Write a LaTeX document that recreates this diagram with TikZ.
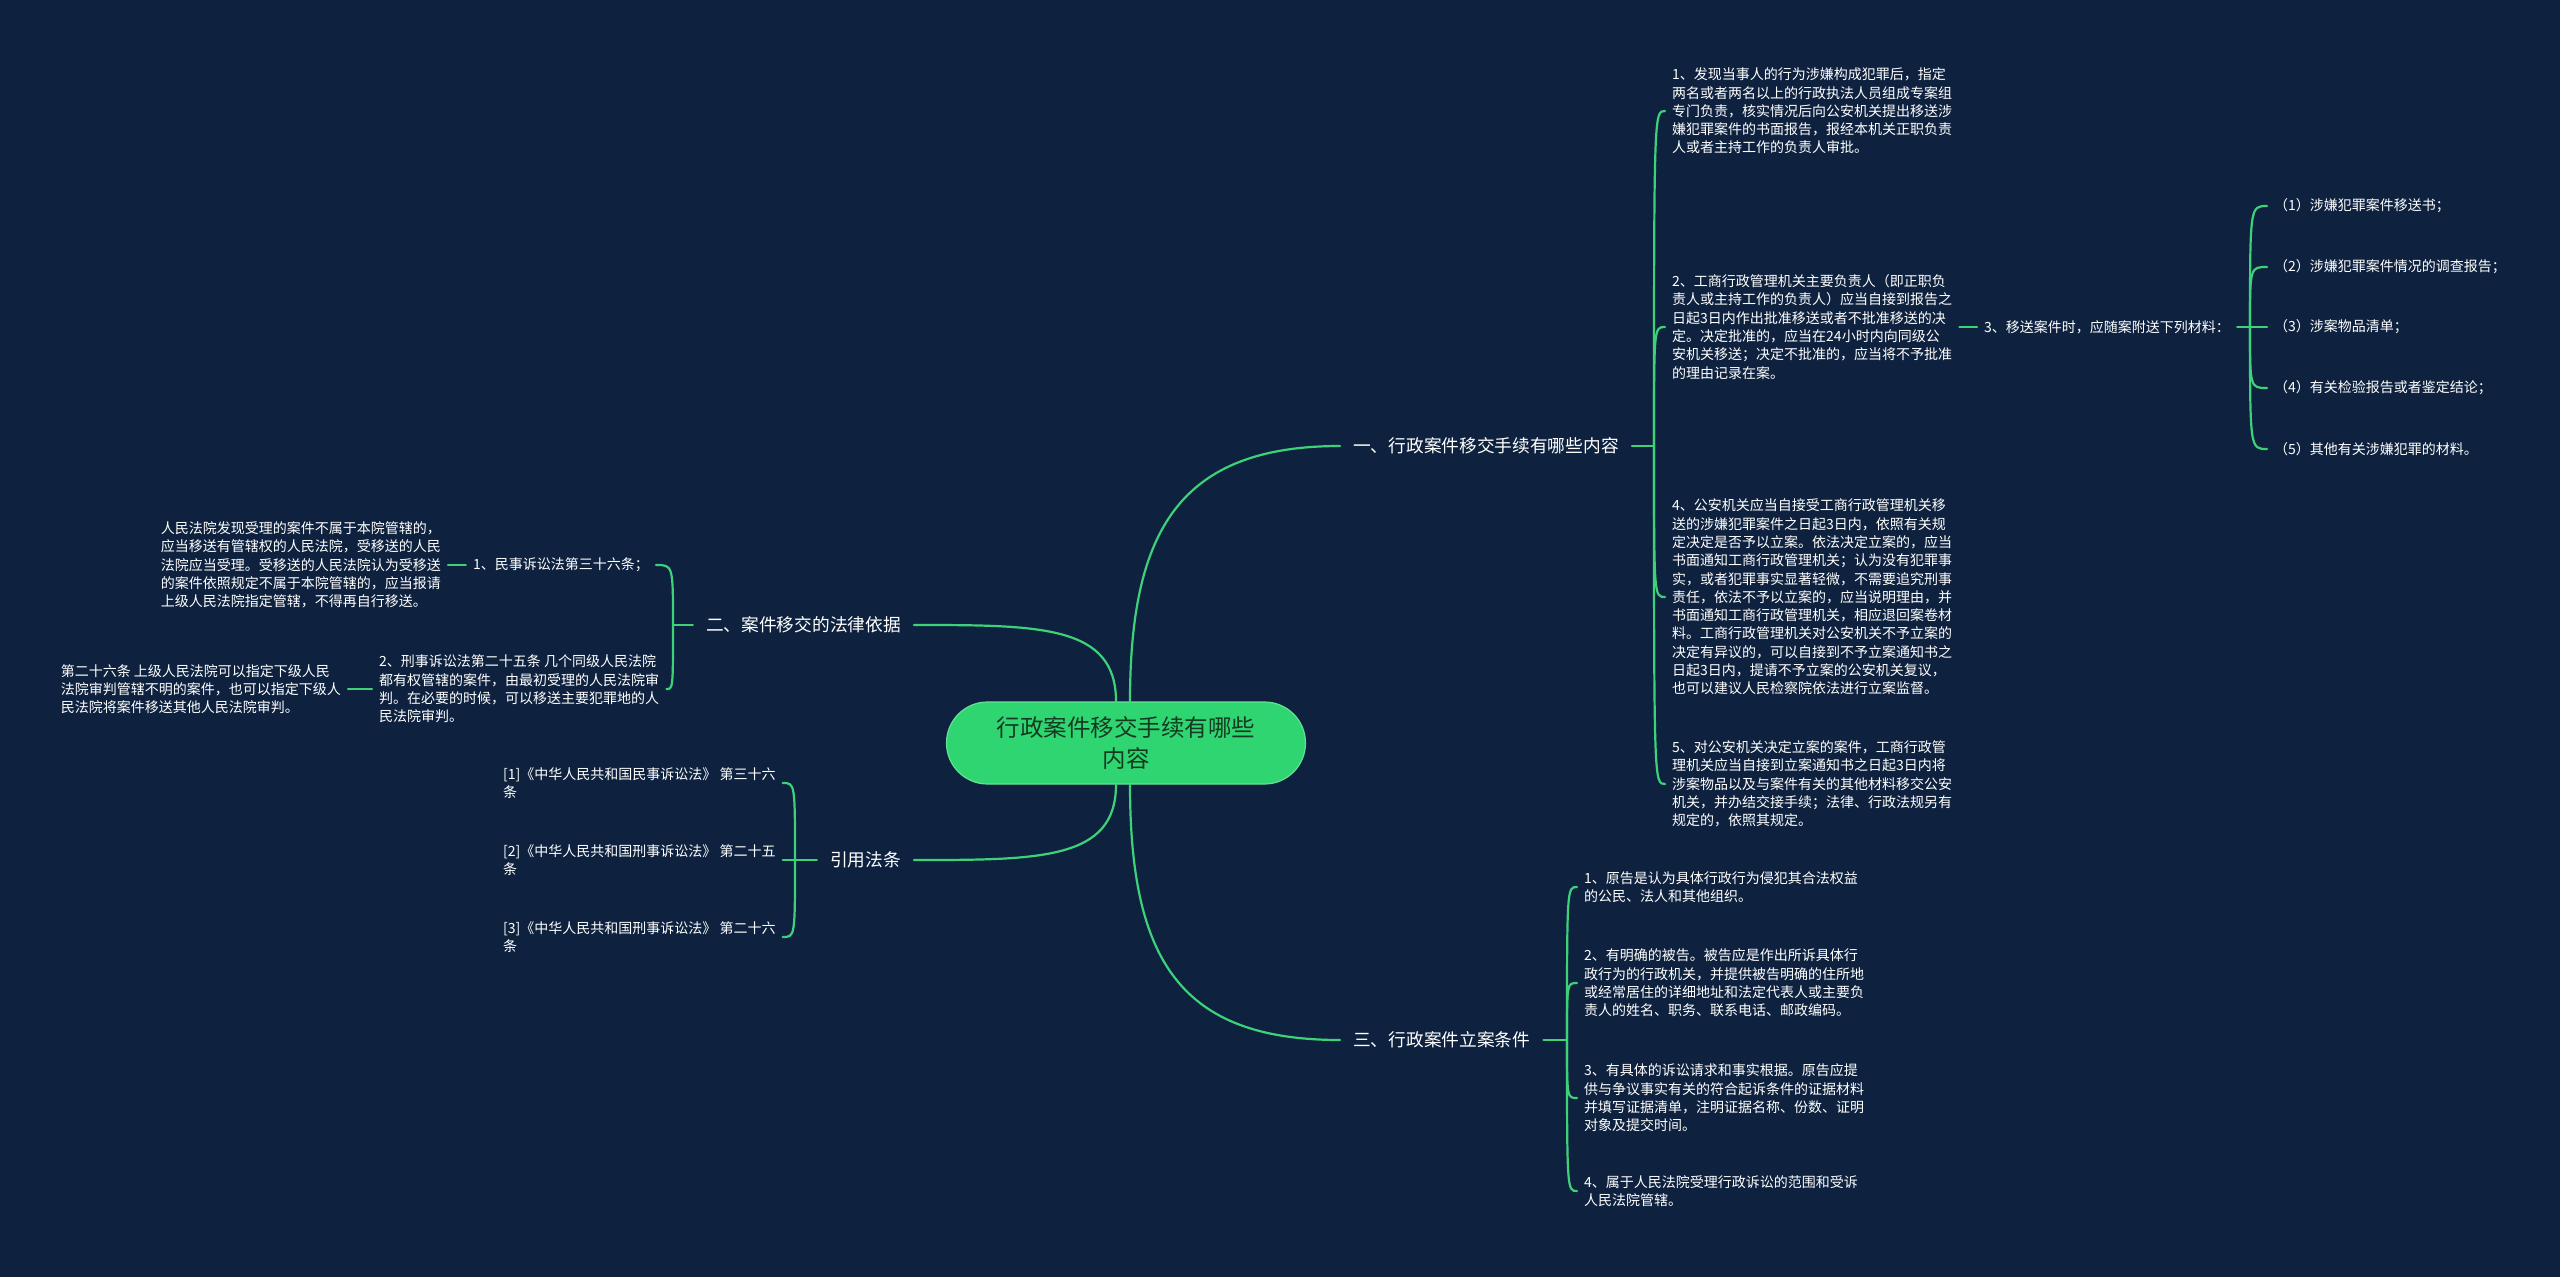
\documentclass[tikz,border=0pt]{standalone}
\usepackage{fontspec}
\setmainfont{Noto Sans CJK SC}
\definecolor{Night}{HTML}{0E223F}
\definecolor{Leaf}{HTML}{3DD27A}
\definecolor{RootFill}{HTML}{2FD571}
\definecolor{RootEdge}{HTML}{62E294}
\definecolor{RootInk}{HTML}{153A22}
\tikzset{link/.style={draw=Leaf,line width=2.2pt,line cap=round},rootbox/.style={fill=RootFill,draw=RootEdge,line width=1.2pt,rounded corners=41pt,minimum width=359pt,minimum height=82pt,text=RootInk,align=center,font=\fontsize{23.5}{31}\selectfont},topic/.style={text=white,inner xsep=13pt,inner ysep=3pt,font=\fontsize{17.7}{22}\selectfont},note/.style={text=white,align=left,inner xsep=7pt,inner ysep=2pt,font=\fontsize{14}{18.3}\selectfont}}

\begin{document}
\begin{tikzpicture}[x=1pt,y=-1pt]
\fill[Night] (0,0) rectangle (2560,1277);
\node[rootbox] (root) at (1126,743) {行政案件移交手续有哪些\\内容};
\node[topic,anchor=west] (b1) at (1340,446) {一、行政案件移交手续有哪些内容};
\node[topic,anchor=east] (b2) at (914,625) {二、案件移交的法律依据};
\node[topic,anchor=east] (b3) at (914,860) {引用法条};
\node[topic,anchor=west] (b4) at (1340,1040) {三、行政案件立案条件};
\draw[link] ([xshift=4]root.north)..controls (1130,530) and (1180,446)..(b1.west);
\draw[link] ([xshift=-10]root.north)..controls (1116,625) and (1040,625)..(b2.east);
\draw[link] ([xshift=-10]root.south)..controls (1116,860) and (1040,860)..(b3.east);
\draw[link] ([xshift=4]root.south)..controls (1130,960) and (1180,1040)..(b4.west);
\coordinate (s1) at (1654,446);\coordinate (s2) at (673,625);\coordinate (s3) at (795,860);\coordinate (s4) at (1567,1040);\coordinate (s5) at (2250,327);
\node[note,anchor=west] (c1) at (1665,111) {1、发现当事人的行为涉嫌构成犯罪后，指定\\两名或者两名以上的行政执法人员组成专案组\\专门负责，核实情况后向公安机关提出移送涉\\嫌犯罪案件的书面报告，报经本机关正职负责\\人或者主持工作的负责人审批。};
\node[note,anchor=west] (c2) at (1665,327) {2、工商行政管理机关主要负责人（即正职负\\责人或主持工作的负责人）应当自接到报告之\\日起3日内作出批准移送或者不批准移送的决\\定。决定批准的，应当在24小时内向同级公\\安机关移送；决定不批准的，应当将不予批准\\的理由记录在案。};
\node[note,anchor=west] (c3) at (1977,327) {3、移送案件时，应随案附送下列材料：};
\node[note,anchor=west] (c4) at (1665,597) {4、公安机关应当自接受工商行政管理机关移\\送的涉嫌犯罪案件之日起3日内，依照有关规\\定决定是否予以立案。依法决定立案的，应当\\书面通知工商行政管理机关；认为没有犯罪事\\实，或者犯罪事实显著轻微，不需要追究刑事\\责任，依法不予以立案的，应当说明理由，并\\书面通知工商行政管理机关，相应退回案卷材\\料。工商行政管理机关对公安机关不予立案的\\决定有异议的，可以自接到不予立案通知书之\\日起3日内，提请不予立案的公安机关复议，\\也可以建议人民检察院依法进行立案监督。};
\node[note,anchor=west] (c5) at (1665,784) {5、对公安机关决定立案的案件，工商行政管\\理机关应当自接到立案通知书之日起3日内将\\涉案物品以及与案件有关的其他材料移交公安\\机关，并办结交接手续；法律、行政法规另有\\规定的，依照其规定。};
\node[note,anchor=west] (d1) at (2267,206) {（1）涉嫌犯罪案件移送书；};
\node[note,anchor=west] (d2) at (2267,267) {（2）涉嫌犯罪案件情况的调查报告；};
\node[note,anchor=west] (d3) at (2267,327) {（3）涉案物品清单；};
\node[note,anchor=west] (d4) at (2267,388) {（4）有关检验报告或者鉴定结论；};
\node[note,anchor=west] (d5) at (2267,449) {（5）其他有关涉嫌犯罪的材料。};
\node[note,anchor=east] (e1) at (656,565) {1、民事诉讼法第三十六条；};
\node[note,anchor=east] (e1n) at (448,565) {人民法院发现受理的案件不属于本院管辖的，\\应当移送有管辖权的人民法院，受移送的人民\\法院应当受理。受移送的人民法院认为受移送\\的案件依照规定不属于本院管辖的，应当报请\\上级人民法院指定管辖，不得再自行移送。};
\node[note,anchor=west] (e2) at (372,689) {2、刑事诉讼法第二十五条 几个同级人民法院\\都有权管辖的案件，由最初受理的人民法院审\\判。在必要的时候，可以移送主要犯罪地的人\\民法院审判。};
\node[note,anchor=east] (e2n) at (348,689) {第二十六条 上级人民法院可以指定下级人民\\法院审判管辖不明的案件，也可以指定下级人\\民法院将案件移送其他人民法院审判。};
\node[note,anchor=west] (r1) at (496,783) {[1]《中华人民共和国民事诉讼法》 第三十六\\条};
\node[note,anchor=west] (r2) at (496,860) {[2]《中华人民共和国刑事诉讼法》 第二十五\\条};
\node[note,anchor=west] (r3) at (496,937) {[3]《中华人民共和国刑事诉讼法》 第二十六\\条};
\node[note,anchor=west] (t1) at (1577,887) {1、原告是认为具体行政行为侵犯其合法权益\\的公民、法人和其他组织。};
\node[note,anchor=west] (t2) at (1577,983) {2、有明确的被告。被告应是作出所诉具体行\\政行为的行政机关，并提供被告明确的住所地\\或经常居住的详细地址和法定代表人或主要负\\责人的姓名、职务、联系电话、邮政编码。};
\node[note,anchor=west] (t3) at (1577,1098) {3、有具体的诉讼请求和事实根据。原告应提\\供与争议事实有关的符合起诉条件的证据材料\\并填写证据清单，注明证据名称、份数、证明\\对象及提交时间。};
\node[note,anchor=west] (t4) at (1577,1191) {4、属于人民法院受理行政诉讼的范围和受诉\\人民法院管辖。};
\draw[link] (b1.east)--(s1);\draw[link] (b2.west)--(s2);\draw[link] (b3.west)--(s3);\draw[link] (b4.east)--(s4);\draw[link] (c3.east)--(s5);
\draw[link] (s1)..controls (s1|-c1.west) and (s1|-c1.west)..(c1.west);\draw[link] (s1)..controls (s1|-c2.west) and (s1|-c2.west)..(c2.west);
\draw[link] (s1)..controls (s1|-c4.west) and (s1|-c4.west)..(c4.west);\draw[link] (s1)..controls (s1|-c5.west) and (s1|-c5.west)..(c5.west);
\draw[link] (c2.east)--(c3.west);
\draw[link] (s5)..controls (s5|-d1.west) and (s5|-d1.west)..(d1.west);\draw[link] (s5)..controls (s5|-d2.west) and (s5|-d2.west)..(d2.west);
\draw[link] (s5)--(d3.west);\draw[link] (s5)..controls (s5|-d4.west) and (s5|-d4.west)..(d4.west);\draw[link] (s5)..controls (s5|-d5.west) and (s5|-d5.west)..(d5.west);
\draw[link] (s2)..controls (s2|-e1.east) and (s2|-e1.east)..(e1.east);\draw[link] (s2)..controls (s2|-e2.east) and (s2|-e2.east)..(e2.east);
\draw[link] (e1.west)--(e1n.east);\draw[link] (e2.west)--(e2n.east);
\draw[link] (s3)..controls (s3|-r1.east) and (s3|-r1.east)..(r1.east);\draw[link] (s3)--(r2.east);\draw[link] (s3)..controls (s3|-r3.east) and (s3|-r3.east)..(r3.east);
\draw[link] (s4)..controls (s4|-t1.west) and (s4|-t1.west)..(t1.west);\draw[link] (s4)..controls (s4|-t2.west) and (s4|-t2.west)..(t2.west);
\draw[link] (s4)..controls (s4|-t3.west) and (s4|-t3.west)..(t3.west);\draw[link] (s4)..controls (s4|-t4.west) and (s4|-t4.west)..(t4.west);
\end{tikzpicture}
\end{document}
